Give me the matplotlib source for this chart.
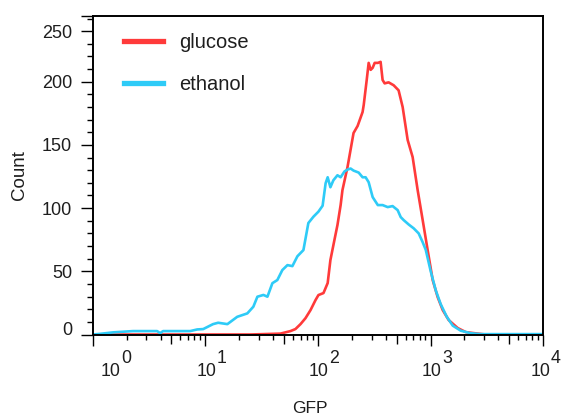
import numpy as np
import matplotlib
matplotlib.use("Agg")
import matplotlib.pyplot as plt
from matplotlib.lines import Line2D
from matplotlib.ticker import FixedLocator, NullFormatter

plt.rcParams['font.family'] = ['Liberation Sans', 'DejaVu Sans']

# GFP histogram, glucose-grown cells
glucose_gfp = [1.49, 3.2, 9.0, 25.1, 46.4, 57.0, 63.1, 70.0, 77.5, 85.9, 95.1, 101, 112, 122,
               129, 140, 149, 159, 165, 183, 207, 225, 249, 255, 271, 282, 294, 306, 319, 340,
               360, 375, 391, 424, 470, 520, 565, 626, 693, 768, 851, 942, 1044, 1156, 1282,
               1449, 1743, 2053, 2625, 3090]
glucose_count = [0, 0, 0, 0, 0.7, 2.7, 4.3, 8.2, 12.9, 19.3, 27.2, 31.2, 32.8, 40.7,
                 58.9, 74.7, 86.6, 102.4, 114.2, 132.5, 159.4, 165, 176, 181.7, 201.4, 214.9,
                 209.4, 211, 214.9, 214.9, 215.7, 201.4, 198.7, 199.5, 197.2, 193.2, 180, 153.9,
                 140.4, 114.2, 90.5, 66.8, 43.1, 29.6, 19.3, 11.4, 5.1, 1.9, 0.7, 0]

# GFP histogram, ethanol-grown cells
ethanol_gfp = [1.0, 1.16, 1.52, 2.28, 3.73, 3.97, 4.22, 7.34, 8.47, 9.58, 11.7, 13.0, 15.7,
               19.2, 23.6, 26.7, 29.0, 32.8, 35.6, 39.4, 43.6, 48.3, 53.6, 59.3, 65.7, 74.3,
               82.2, 91.2, 101, 110, 117, 122, 129, 137, 149, 159, 172, 183, 195, 207, 230,
               249, 265, 282, 306, 340, 375, 416, 460, 510, 543, 577, 640, 708, 784, 851, 906,
               1003, 1111, 1230, 1393, 1574, 1854, 2273, 2794, 4207, 10000]
ethanol_count = [0, 0.5, 1.7, 2.7, 2.7, 1.1, 2.7, 2.7, 4.0, 4.3, 8.2, 9.3, 8.2,
                 14.0, 16.7, 22.0, 29.9, 31.3, 29.9, 40.6, 43.1, 51.0, 54.9, 54.1, 61.9, 66.8,
                 88.2, 93.2, 97.2, 101.9, 119.7, 124.4, 116.5, 122, 126, 124.4, 129, 130.5,
                 131.3, 129.7, 128.1, 124.4, 124.4, 120.5, 108.7, 102.4, 102.4, 100.8, 101.6,
                 98.4, 92.9, 90.5, 87, 84, 80, 73, 67, 50, 35, 24, 14, 7, 3, 1, 0.3, 0.3, 0.3]

series_labels = ["glucose", "ethanol"]
series_colors = ["#ff3a3a", "#2ecbf7"]

y_ticks = [0, 50, 100, 150, 200, 240]
y_tick_labels = ["0", "50", "100", "150", "200", "250"]
x_decades = [0, 1, 2, 3, 4]

TEXT = "#1e1e1e"

fig = plt.figure(figsize=(5.61, 4.15), dpi=100)
ax = fig.add_axes([92.7 / 561, 1 - 334.5 / 415, 450.5 / 561, 318.5 / 415])

ax.plot(glucose_gfp, glucose_count, color=series_colors[0], lw=1.9)
ax.plot(ethanol_gfp, ethanol_count, color=series_colors[1], lw=1.9)

ax.set_xscale("log")
ax.set_xlim(1, 1e4)
ax.set_ylim(0, 252)

for s in ax.spines.values():
    s.set_linewidth(1.4)
    s.set_color("black")

# y axis: majors, minors every 10, and a tick at the top edge
ax.yaxis.set_major_locator(FixedLocator(y_ticks + [252]))
ax.set_yticklabels(y_tick_labels + [""])
ax.yaxis.set_minor_locator(FixedLocator(np.arange(0, 251, 10)))
ax.tick_params(axis="y", which="major", direction="out", length=9, width=1.0,
               pad=5.8, labelsize=13, labelcolor=TEXT)
ax.tick_params(axis="y", which="minor", direction="out", length=4, width=1.0)
ax.get_yticklabels()[0].set_verticalalignment("baseline")

# x axis: decade ticks, 2..9 minors, longer ticks at 5
ax.xaxis.set_major_locator(FixedLocator([10.0 ** d for d in x_decades]))
minor = [m * 10.0 ** d for d in x_decades[:-1] for m in (2, 3, 4, 6, 7, 8, 9)]
ax.xaxis.set_minor_locator(FixedLocator(minor))
ax.xaxis.set_major_formatter(NullFormatter())
ax.xaxis.set_minor_formatter(NullFormatter())
ax.tick_params(axis="x", which="major", direction="out", length=8, width=1.0)
ax.tick_params(axis="x", which="minor", direction="out", length=3.6, width=1.0)

sec = ax.secondary_xaxis("bottom")
sec.set_xticks([5 * 10.0 ** d for d in x_decades[:-1]])
sec.xaxis.set_minor_locator(FixedLocator([]))
sec.xaxis.set_major_formatter(NullFormatter())
sec.tick_params(axis="x", which="major", direction="out", length=6.5, width=1.0)
sec.spines["bottom"].set_visible(False)

# decade labels: "10" with a full-size raised exponent
fs = 12.75
fs_px = fs * fig.dpi / 72
ten_w = 2 * 0.556 * fs_px
label_shift = {0: 18, 4: -3}
for d in x_decades:
    dx = label_shift.get(d, 1)
    ax.annotate("10", xy=(10.0 ** d, 0), xycoords=("data", "axes fraction"),
                xytext=(dx, -41.5), textcoords="offset pixels", ha="center",
                va="baseline", fontsize=fs, color=TEXT, annotation_clip=False)
    ax.annotate(str(d), xy=(10.0 ** d, 0), xycoords=("data", "axes fraction"),
                xytext=(dx + ten_w / 2 + 0.5, -28.5), textcoords="offset pixels",
                ha="left", va="baseline", fontsize=fs, color=TEXT, annotation_clip=False)

ax.set_xlabel("GFP", fontsize=12.5, color=TEXT, va="baseline")
ax.xaxis.set_label_coords((310 - 92.7) / 450.5, (334.5 - 413) / 318.5)
ax.set_ylabel("Count", fontsize=13.5, color=TEXT)
ax.yaxis.set_label_coords((28 - 92.7) / 450.5, 0.5)

handles = [Line2D([], [], color=c, lw=3.8) for c in series_colors]
ax.legend(handles, series_labels, loc="upper left", bbox_to_anchor=(0.069, 0.947),
          frameon=False, borderpad=0, borderaxespad=0, fontsize=14.5,
          handlelength=1.95, handletextpad=0.8, labelspacing=1.15, labelcolor=TEXT)

fig.savefig("out.png", dpi=100)
